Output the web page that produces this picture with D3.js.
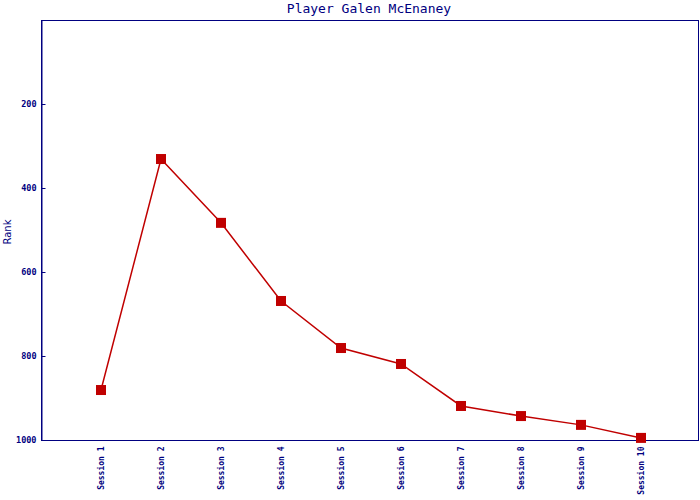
<!DOCTYPE html>
<html><head><meta charset="utf-8">
<script src="https://cdn.jsdelivr.net/npm/d3@7"></script>
<style>body{margin:0;background:#fff;} svg{display:block;}</style>
</head><body>
<svg id="chart" width="700" height="500"></svg>
<script>
const categories = ["Session 1","Session 2","Session 3","Session 4","Session 5","Session 6","Session 7","Session 8","Session 9","Session 10"];
const ranks = [881, 331, 483, 669, 781, 819, 919, 943, 964, 995];
const yTicks = [200, 400, 600, 800, 1000];
const title = "Player Galen McEnaney";
const yLabel = "Rank";

const navy = "#000080", red = "#c00000";
const svg = d3.select("#chart");
const L = 41, R = 699, T = 20, B = 440;

const x = d3.scalePoint().domain(categories).range([L, R + 2]).padding(1);
const y = d3.scaleLinear().domain([0, 1000]).range([T, B]);

svg.append("rect").attr("x", L + 0.5).attr("y", T + 0.5).attr("width", R - L - 1).attr("height", B - T)
  .attr("fill", "none").attr("stroke", navy).attr("stroke-width", 1);

const yAxis = svg.append("g").attr("transform", `translate(${L + 0.5},0)`)
  .call(d3.axisLeft(y).tickValues(yTicks).tickFormat(d3.format("d")).tickSize(-4).tickSizeOuter(0).tickPadding(5));
yAxis.select(".domain").attr("stroke", navy);
yAxis.selectAll(".tick line").attr("stroke", navy);
yAxis.selectAll(".tick text").attr("fill", navy)
  .style("font-family", "'DejaVu Sans Mono', monospace").style("font-size", "8.5px").style("font-weight", "bold");

const xAxis = svg.append("g").attr("transform", `translate(0,${B + 0.5})`)
  .call(d3.axisBottom(x).tickSize(0).tickPadding(0));
xAxis.select(".domain").remove();
xAxis.selectAll(".tick text")
  .attr("fill", navy)
  .attr("transform", "rotate(-90)")
  .attr("text-anchor", "end")
  .attr("x", -6).attr("y", 0).attr("dy", "0.32em")
  .style("font-family", "'DejaVu Sans Mono', monospace").style("font-size", "8px").style("font-weight", "bold");

svg.append("path").datum(ranks)
  .attr("fill", "none").attr("stroke", red).attr("stroke-width", 1.5)
  .attr("d", d3.line().x((d, i) => x(categories[i])).y(d => y(d)));

svg.selectAll("rect.mk").data(ranks).enter().append("rect").attr("class", "mk")
  .attr("x", (d, i) => x(categories[i]) - 5).attr("y", d => y(d) - 5)
  .attr("width", 10).attr("height", 10).attr("fill", red);

svg.append("text").attr("x", 369).attr("y", 13).attr("text-anchor", "middle")
  .attr("fill", navy).style("font-family", "'DejaVu Sans Mono', monospace").style("font-size", "13px")
  .text(title);

svg.append("text").attr("transform", "translate(11,232) rotate(-90)").attr("text-anchor", "middle")
  .attr("fill", navy).style("font-family", "'DejaVu Sans', sans-serif").style("font-size", "10px")
  .text(yLabel);
</script>
</body></html>
